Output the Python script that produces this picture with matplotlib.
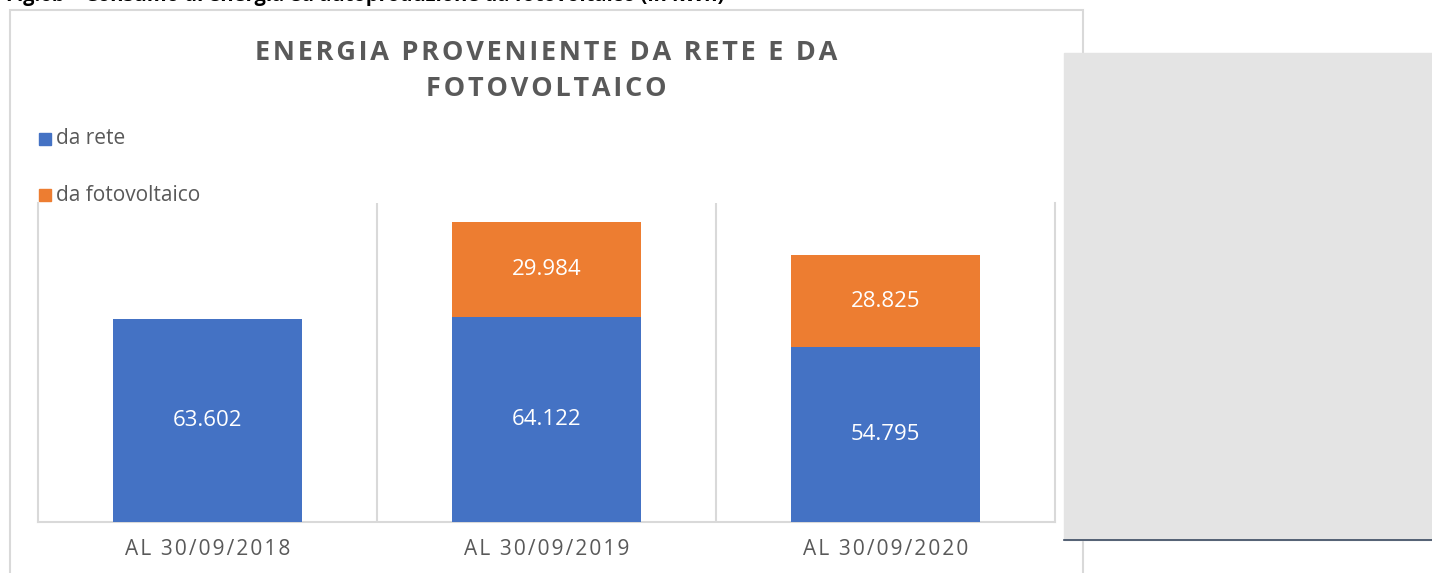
import matplotlib.pyplot as plt
import matplotlib.patches as mpatches
import numpy as np

plt.rcParams['font.family'] = ['Open Sans', 'DejaVu Sans']

# data
categories = ['AL 30/09/2018', 'AL 30/09/2019', 'AL 30/09/2020']
da_rete = [63602, 64122, 54795]
da_fotovoltaico = [0, 29984, 28825]
series_names = ['da rete', 'da fotovoltaico']
title = 'ENERGIA PROVENIENTE DA RETE E DA\nFOTOVOLTAICO'
caption = 'Fig.6b – Consumo di energia ed autoproduzione da fotovoltaico (in kWh)'

blue = '#4472c4'
orange = '#ed7d31'
grid_col = '#d9d9d9'
text_col = '#595959'


def track(s, sep='\u200a'):
    # fake letter spacing with hair spaces
    return '\n'.join(sep.join(line) for line in s.split('\n'))


def fmt(v):
    return f'{v:,}'.replace(',', '.')


fig = plt.figure(figsize=(14.32, 5.73), dpi=100)
W, H = 1432, 573

# outer chart frame
fig.patches.append(mpatches.Rectangle((10 / W, -0.05), (1083 - 10) / W, 1 - 10 / H + 0.05,
                                      transform=fig.transFigure, fill=False,
                                      edgecolor=grid_col, linewidth=1.5))

# caption cut off at the top
fig.text(0.004, 1 - 6 / H, caption, ha='left', va='bottom', fontsize=14.5,
         fontweight='bold', color='black')

ax = fig.add_axes([38 / W, 1 - 522 / H, (1055 - 38) / W, (522 - 203) / H])
x = np.arange(len(categories))
b1 = ax.bar(x, da_rete, width=0.56, color=blue, label=series_names[0], zorder=3)
b2 = ax.bar(x, da_fotovoltaico, width=0.56, bottom=da_rete, color=orange,
            label=series_names[1], zorder=3)

for i in range(len(categories)):
    ax.text(x[i], da_rete[i] / 2, fmt(da_rete[i]), ha='center', va='center',
            color='white', fontsize=16, zorder=4)
    if da_fotovoltaico[i] > 0:
        ax.text(x[i], da_rete[i] + da_fotovoltaico[i] / 2, fmt(da_fotovoltaico[i]),
                ha='center', va='center', color='white', fontsize=16, zorder=4)

ax.set_xlim(-0.5, len(categories) - 0.5)
ax.set_ylim(0, 100000)
ax.set_yticks([])
ax.set_xticks(x)
ax.set_xticklabels([track(c) for c in categories], fontsize=15, color=text_col)
ax.tick_params(axis='x', length=0, pad=12)
for sep in np.arange(0.5, len(categories) - 0.5):
    ax.axvline(sep, color=grid_col, linewidth=1.5, zorder=1)
for side in ['left', 'right', 'bottom']:
    ax.spines[side].set_color(grid_col)
    ax.spines[side].set_linewidth(1.5)
ax.spines['top'].set_visible(False)

# title
fig.text(546 / W, 1 - 71 / H, track(title), ha='center', va='center', fontsize=19.5,
         fontweight='bold', color=text_col, linespacing=1.5)

# legend, stacked vertically like Excel
legend_y = [139, 195]
for name, col, yy in zip(series_names, [blue, orange], legend_y):
    fig.patches.append(mpatches.Rectangle((39 / W, 1 - (yy + 6) / H), 12 / W, 12 / H,
                                          transform=fig.transFigure, color=col))
    fig.text(56 / W, 1 - yy / H, name, ha='left', va='center', fontsize=15,
             color=text_col)

# grey panel on the right
fig.patches.append(mpatches.Rectangle((1064 / W, 1 - 540 / H), (W - 1064) / W, (540 - 53) / H,
                                      transform=fig.transFigure, color='#e4e4e4', zorder=5))
fig.add_artist(plt.Line2D([1064 / W, 1], [1 - 540 / H, 1 - 540 / H], color='#3a4a60',
                          linewidth=1.2, transform=fig.transFigure, zorder=6))

fig.savefig('out.png', dpi=100)
